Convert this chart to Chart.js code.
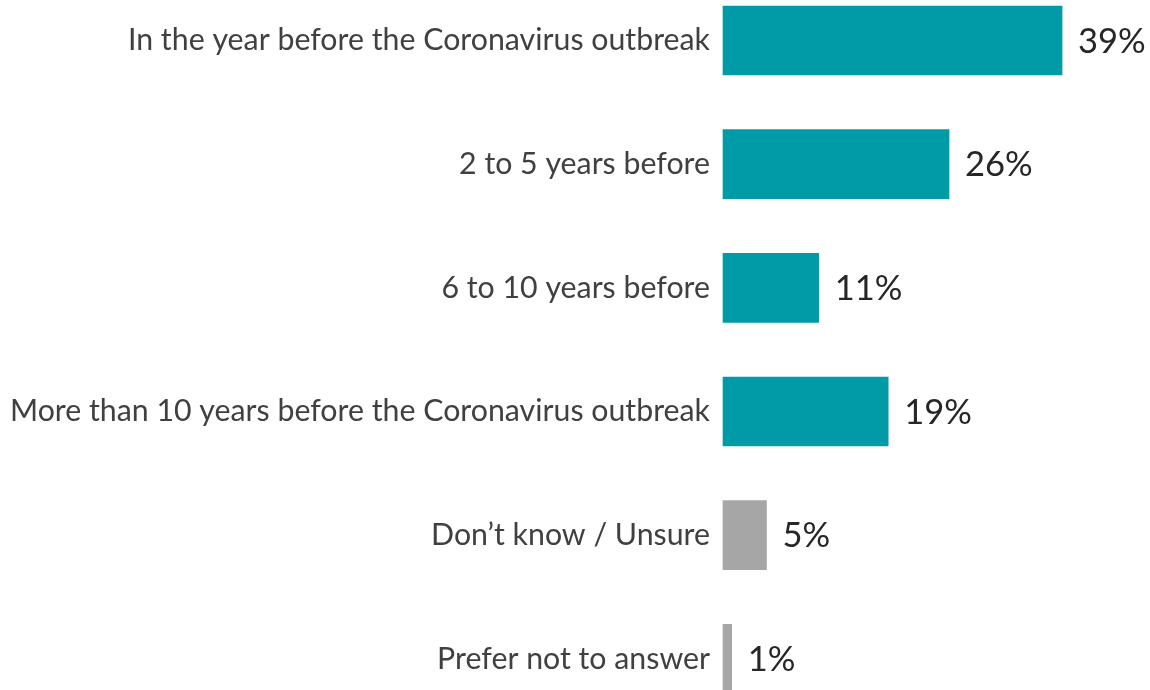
<!DOCTYPE html>
<html>
  <head>
    <script src="https://cdn.jsdelivr.net/npm/chart.js@4/dist/chart.umd.min.js"></script>
    <style>
      body { margin: 0; background: #fff; }
      #wrap { width: 1150px; height: 690px; }
    </style>
  </head>

  <body>
    <div id="wrap">
      <canvas id="canvas"></canvas>
    </div>
    <script>
      const categories = [
        'In the year before the Coronavirus outbreak',
        '2 to 5 years before',
        '6 to 10 years before',
        'More than 10 years before the Coronavirus outbreak',
        'Don\u2019t know / Unsure',
        'Prefer not to answer',
      ];
      const values = [39, 26, 11, 19, 5, 1];
      const barColors = ['#019ba8', '#019ba8', '#019ba8', '#019ba8', '#a6a6a6', '#a6a6a6'];

      const FONT = 'Lato, "Open Sans", sans-serif';

      // percent labels to the right of each bar
      const valueLabels = {
        id: 'valueLabels',
        afterDatasetsDraw(chart) {
          const ctx = chart.ctx;
          const meta = chart.getDatasetMeta(0);
          ctx.save();
          ctx.font = '34.5px ' + FONT;
          ctx.fillStyle = '#262626';
          ctx.textAlign = 'left';
          ctx.textBaseline = 'middle';
          meta.data.forEach((bar, i) => {
            ctx.fillText(values[i] + '%', bar.x + 16, bar.y + 1);
          });
          ctx.restore();
        },
      };

      new Chart(document.getElementById('canvas').getContext('2d'), {
        type: 'bar',
        data: {
          labels: categories,
          datasets: [
            {
              data: values,
              backgroundColor: barColors,
              barThickness: 69,
              clip: false,
            },
          ],
        },
        options: {
          indexAxis: 'y',
          responsive: true,
          maintainAspectRatio: false,
          animation: false,
          layout: { padding: { top: 40.5, bottom: 29.5, right: 1, left: 0 } },
          plugins: {
            legend: { display: false },
            tooltip: { enabled: false },
          },
          scales: {
            x: { display: false, min: 0, max: 49 },
            y: {
              offset: false,
              grid: { display: false, drawTicks: false },
              border: { display: false },
              ticks: {
                padding: 13,
                color: '#404040',
                font: { family: FONT, size: 30.3 },
              },
              afterFit(scale) {
                scale.width = 723;
              },
            },
          },
        },
        plugins: [valueLabels],
      });
    </script>
  </body>
</html>
